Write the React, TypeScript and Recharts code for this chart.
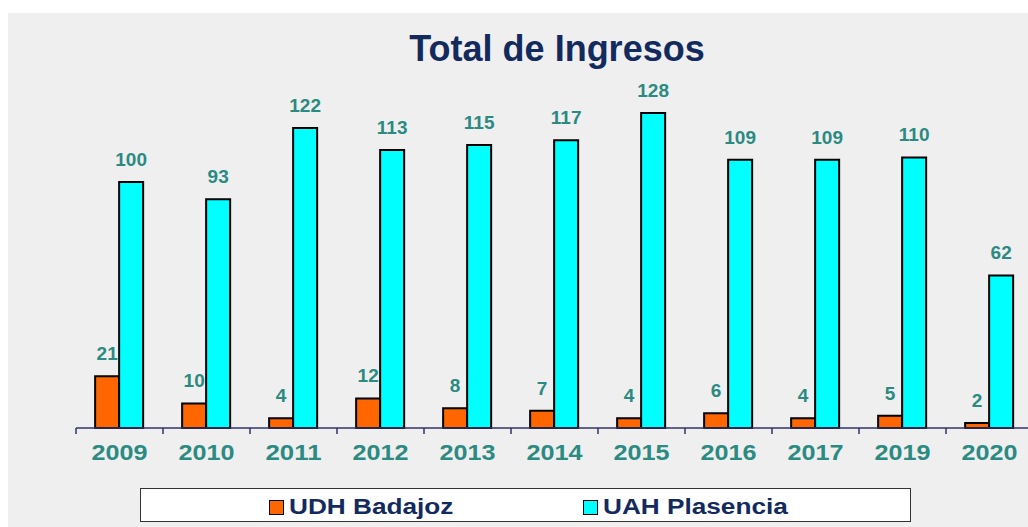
import { BarChart, Bar, XAxis, YAxis, LabelList } from "recharts";

const years = ["2009", "2010", "2011", "2012", "2013", "2014", "2015", "2016", "2017", "2019", "2020"];
const badajoz = [21, 10, 4, 12, 8, 7, 4, 6, 4, 5, 2];
const plasencia = [100, 93, 122, 113, 115, 117, 128, 109, 109, 110, 62];

const FONT = '"Liberation Sans", Arial, sans-serif';
const NAVY = "#132a5e";
const TEAL = "#2b8a82";
const ORANGE = "#ff6600";
const CYAN = "#00ffff";
const AXIS = "#333366";

const CHART_W = 1040;
const MARGIN_L = 76;
const MARGIN_R = 7;
const BAND = (CHART_W - MARGIN_L - MARGIN_R) / years.length;

const data = years.map((year, i) => ({
  year,
  badajoz: badajoz[i],
  plasencia: plasencia[i],
}));

// Excel style: tick marks sit between categories, not under them
const YearTick = (props: any) => {
  const { x, y, payload, index } = props;
  const left = x - BAND / 2;
  const right = x + BAND / 2;
  return (
    <g>
      <line x1={left} y1={y} x2={left} y2={y + 6} stroke={AXIS} strokeWidth={1.5} />
      {index === years.length - 1 && (
        <line x1={right} y1={y} x2={right} y2={y + 6} stroke={AXIS} strokeWidth={1.5} />
      )}
      <text
        x={x}
        y={y + 32}
        textAnchor="middle"
        fill={TEAL}
        fontSize={22}
        fontWeight="bold"
        fontFamily={FONT}
        textLength={56}
        lengthAdjust="spacingAndGlyphs"
      >
        {payload.value}
      </text>
    </g>
  );
};

const ValueLabel = (props: any) => {
  const { x, y, width, value } = props;
  return (
    <text
      x={Number(x) + Number(width) / 2}
      y={Number(y) - 16}
      textAnchor="middle"
      fill={TEAL}
      fontSize={19}
      fontWeight="bold"
      fontFamily={FONT}
    >
      {value}
    </text>
  );
};

const LegendItem = ({ color, label, left }: { color: string; label: string; left: number }) => (
  <div style={{ position: "absolute", left, top: 8, display: "flex", alignItems: "center" }}>
    <div style={{ width: 13, height: 13, background: color, border: "1.5px solid #000" }} />
    <span
      style={{
        marginLeft: 5,
        display: "inline-block",
        fontFamily: FONT,
        fontWeight: "bold",
        fontSize: 22,
        color: NAVY,
        lineHeight: "20px",
        transform: "scaleX(1.19)",
        transformOrigin: "left center",
        whiteSpace: "nowrap",
      }}
    >
      {label}
    </span>
  </div>
);

export default function App() {
  return (
    <div
      style={{
        position: "fixed",
        left: 0,
        top: 0,
        width: 1028,
        height: 527,
        overflow: "hidden",
        background: "#fff",
      }}
    >
      <div
        style={{
          position: "absolute",
          left: 8,
          top: 13,
          width: 1020,
          height: 514,
          background: "#efefef",
        }}
      />
      <div
        style={{
          position: "absolute",
          left: 0,
          width: 1114,
          top: 29,
          textAlign: "center",
          fontFamily: FONT,
          fontWeight: "bold",
          fontSize: 36,
          color: NAVY,
          lineHeight: "40px",
        }}
      >
        Total de Ingresos
      </div>
      <div style={{ position: "absolute", left: 0, top: 0 }}>
        <BarChart
          width={CHART_W}
          height={527}
          data={data}
          margin={{ top: 59, right: MARGIN_R, bottom: 69, left: MARGIN_L }}
          barCategoryGap="22%"
          barGap={0}
        >
          <YAxis hide domain={[0, 150]} />
          <XAxis
            dataKey="year"
            axisLine={{ stroke: AXIS, strokeWidth: 1.5 }}
            tickLine={false}
            tickSize={0}
            tickMargin={0}
            interval={0}
            height={30}
            tick={<YearTick />}
          />
          <Bar dataKey="badajoz" fill={ORANGE} stroke="#000" strokeWidth={2} isAnimationActive={false}>
            <LabelList dataKey="badajoz" content={<ValueLabel />} />
          </Bar>
          <Bar dataKey="plasencia" fill={CYAN} stroke="#000" strokeWidth={2} isAnimationActive={false}>
            <LabelList dataKey="plasencia" content={<ValueLabel />} />
          </Bar>
        </BarChart>
      </div>
      <div
        style={{
          position: "absolute",
          left: 140,
          top: 488,
          width: 769,
          height: 32,
          background: "#fff",
          border: "1.5px solid #333",
        }}
      >
        <LegendItem color={ORANGE} label="UDH Badajoz" left={128} />
        <LegendItem color={CYAN} label="UAH Plasencia" left={442} />
      </div>
    </div>
  );
}
